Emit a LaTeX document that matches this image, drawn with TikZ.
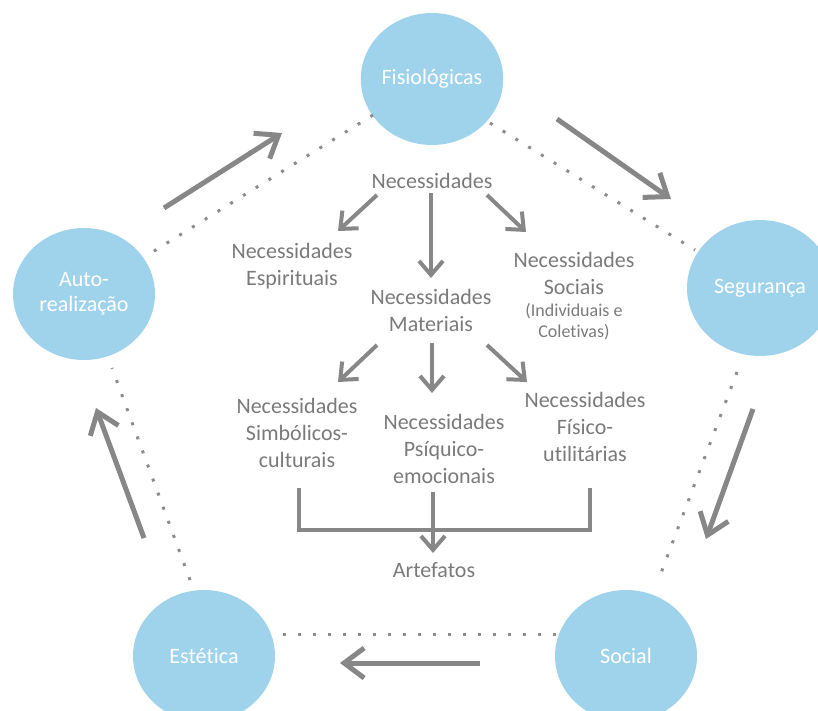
\documentclass[tikz,border=0pt]{standalone}
\usepackage{fontspec}
\setmainfont{Carlito}[Ligatures=NoCommon]
\usetikzlibrary{shapes.geometric,arrows.meta}
\definecolor{bubblefill}{HTML}{9FD3EC}
\definecolor{inkgray}{HTML}{7A7A7A}
\definecolor{arrowgray}{HTML}{878787}
\definecolor{dotgray}{HTML}{8C8C8C}

\begin{document}
\begin{tikzpicture}[x=1pt,y=-1pt,
  circlenode/.style={ellipse, fill=bubblefill, draw=none, minimum width=142pt,
    minimum height=132pt, inner sep=0pt, text=white, align=center,
    font=\fontsize{22}{25}\selectfont},
  needtext/.style={text=inkgray, align=center, inner sep=0pt,
    font=\fontsize{22}{27}\selectfont},
  smallneed/.style={text=inkgray, align=center, inner sep=0pt,
    font=\fontsize{18}{21}\selectfont},
  cyclearrow/.style={draw=arrowgray, line width=5pt,
    -{Straight Barb[length=20pt,width=30pt]}},
  treearrow/.style={draw=arrowgray, line width=4pt,
    -{Straight Barb[length=14pt,width=24pt]}},
  treeline/.style={draw=arrowgray, line width=4pt},
  dotline/.style={draw=dotgray, line width=3pt, dash pattern=on 3pt off 12pt}]

\useasboundingbox (0,0) rectangle (818,710);

% the five needs of the cycle
\node[circlenode] (fis) at (432,79) {Fisiológicas};
\node[circlenode, minimum width=146pt, minimum height=136pt] (seg) at (760,288) {Segurança};
\node[circlenode] (soc) at (626,656) {Social};
\node[circlenode] (est) at (204,656) {Estética};
\node[circlenode] (aut) at (84,294) {Auto-\\realização};

% dotted pentagon joining the circles
\draw[dotline] ([shift={(-59,36)}]fis.center) -- ([shift={(62,-38)}]aut.center);
\draw[dotline] ([shift={(58,44)}]fis.center) -- ([shift={(-65,-38)}]seg.center);
\draw[dotline] ([shift={(-23,84)}]seg.center) -- ([shift={(32,-75)}]soc.center);
\draw[dotline] ([shift={(-70,-22)}]soc.center) -- ([shift={(72,-22)}]est.center);
\draw[dotline] ([shift={(-14,-76)}]est.center) -- ([shift={(28,74)}]aut.center);

% arrows running round the cycle
\draw[cyclearrow] ([shift={(80,-86)}]aut.center) -- ([shift={(-150,54)}]fis.center);
\draw[cyclearrow] ([shift={(125,40)}]fis.center) -- ([shift={(-89,-89)}]seg.center);
\draw[cyclearrow] ([shift={(-7,121)}]seg.center) -- ([shift={(80,-117)}]soc.center);
\draw[cyclearrow] ([shift={(-146,7)}]soc.center) -- ([shift={(136,7)}]est.center);
\draw[cyclearrow] ([shift={(-60,-118)}]est.center) -- ([shift={(12,114)}]aut.center);

% tree of needs
\node[needtext] (nec) at (432,181) {Necessidades};
\node[needtext] (esp) at (292,266) {Necessidades\\Espirituais};
\node[needtext] (mat) at (431,310) {Necessidades\\Materiais};
\node[needtext] (sca) at (574,273) {Necessidades\\Sociais};
\node[smallneed] (scb) at (574,322) {(Individuais e\\Coletivas)};
\node[needtext] (sim) at (297,433) {Necessidades\\Simbólicos-\\culturais};
\node[needtext] (psi) at (444,449) {Necessidades\\Psíquico-\\emocionais};
\node[needtext] (fut) at (585,427) {Necessidades\\Físico-\\utilitárias};
\node[needtext] (art) at (434,570) {Artefatos};

\draw[treearrow] ([shift={(-55,14)}]nec.center) -- ([shift={(46,-35)}]esp.center);
\draw[treearrow] ([shift={(-1,12)}]nec.center) -- ([shift={(0,-32)}]mat.center);
\draw[treearrow] ([shift={(55,14)}]nec.center) -- ([shift={(-48,-41)}]sca.center);

\draw[treearrow] ([shift={(-54,35)}]mat.center) -- ([shift={(41,-51)}]sim.center);
\draw[treearrow] ([shift={(1,33)}]mat.center) -- ([shift={(-12,-56)}]psi.center);
\draw[treearrow] ([shift={(56,35)}]mat.center) -- ([shift={(-58,-45)}]fut.center);

% bracket gathering the material needs into artefacts
\draw[treeline] ([shift={(2,55)}]sim.center) |- ([shift={(5,103)}]fut.center)
  -- ([shift={(5,61)}]fut.center);
\draw[treearrow] ([shift={(-11,43)}]psi.center) -- ([shift={(-1,-17)}]art.center);
\end{tikzpicture}
\end{document}
